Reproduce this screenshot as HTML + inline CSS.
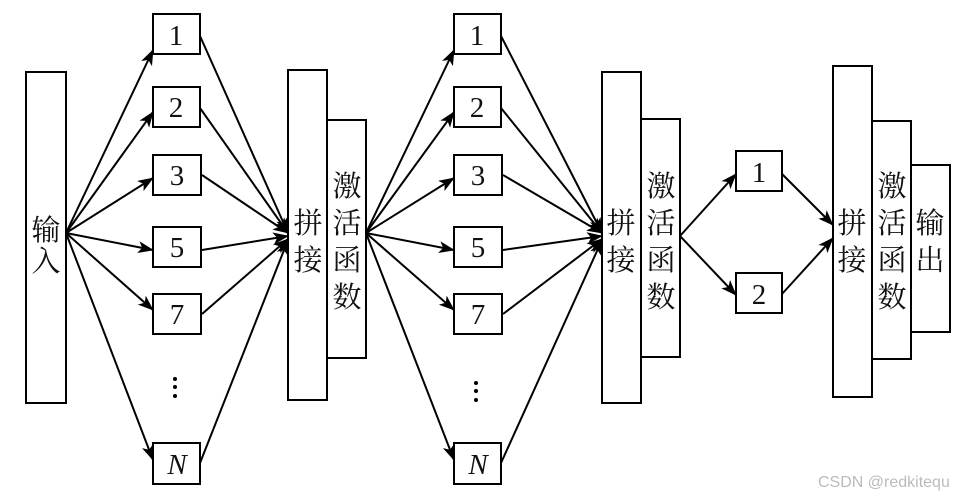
<!DOCTYPE html>
<html><head><meta charset="utf-8"><style>
body{margin:0;background:#fff}
svg text{font-family:"Liberation Serif","Noto Serif CJK SC",serif;fill:#111}
</style></head><body>
<svg width="974" height="498" viewBox="0 0 974 498" xmlns="http://www.w3.org/2000/svg">
<defs>
<marker id="b" viewBox="0 0 16 12" refX="15" refY="6" markerWidth="16" markerHeight="12" markerUnits="userSpaceOnUse" orient="auto"><path d="M0,0 L16,6 L0,12 L4,6 z" fill="#000"/></marker></defs>
<g stroke="#000" stroke-width="2" fill="#fff">
<rect x="26" y="72" width="40" height="331"/>
<rect x="327" y="120" width="39" height="238"/>
<rect x="288" y="70" width="39" height="330"/>
<rect x="641" y="119" width="39" height="238"/>
<rect x="602" y="72" width="39" height="331"/>
<rect x="911" y="165" width="39" height="167"/>
<rect x="872" y="121" width="39" height="238"/>
<rect x="833" y="66" width="39" height="331"/>
<rect x="736" y="151" width="46" height="40"/>
<rect x="736" y="273" width="46" height="40"/>
</g>
<g stroke="#000" stroke-width="2" fill="none">
<line x1="66" y1="233" x2="153" y2="50" marker-end="url(#b)"/>
<line x1="66" y1="233" x2="153" y2="112" marker-end="url(#b)"/>
<line x1="66" y1="233" x2="153" y2="178" marker-end="url(#b)"/>
<line x1="66" y1="233" x2="153" y2="250" marker-end="url(#b)"/>
<line x1="66" y1="233" x2="153" y2="310" marker-end="url(#b)"/>
<line x1="66" y1="233" x2="153" y2="460" marker-end="url(#b)"/>
<line x1="200" y1="36" x2="288" y2="233" marker-end="url(#b)"/>
<line x1="200" y1="108" x2="288" y2="233" marker-end="url(#b)"/>
<line x1="202" y1="175" x2="288" y2="233" marker-end="url(#b)"/>
<line x1="202" y1="250" x2="288" y2="236" marker-end="url(#b)"/>
<line x1="202" y1="314" x2="288" y2="239" marker-end="url(#b)"/>
<line x1="200" y1="463" x2="288" y2="240" marker-end="url(#b)"/>
</g>
<g stroke="#000" stroke-width="2" fill="#fff">
<rect x="153" y="14" width="47" height="40"/>
<rect x="153" y="87" width="47" height="40"/>
<rect x="153" y="155" width="48" height="40"/>
<rect x="153" y="227" width="48" height="40"/>
<rect x="153" y="294" width="48" height="40"/>
<rect x="153" y="443" width="47" height="41"/>
</g>
<g transform="translate(301,0)">
<g stroke="#000" stroke-width="2" fill="none">
<line x1="65" y1="233" x2="153" y2="50" marker-end="url(#b)"/>
<line x1="65" y1="233" x2="153" y2="112" marker-end="url(#b)"/>
<line x1="65" y1="233" x2="153" y2="178" marker-end="url(#b)"/>
<line x1="65" y1="233" x2="153" y2="250" marker-end="url(#b)"/>
<line x1="65" y1="233" x2="153" y2="310" marker-end="url(#b)"/>
<line x1="65" y1="233" x2="153" y2="460" marker-end="url(#b)"/>
<line x1="200" y1="36" x2="301" y2="233" marker-end="url(#b)"/>
<line x1="200" y1="108" x2="301" y2="233" marker-end="url(#b)"/>
<line x1="202" y1="175" x2="301" y2="233" marker-end="url(#b)"/>
<line x1="202" y1="250" x2="301" y2="236" marker-end="url(#b)"/>
<line x1="202" y1="314" x2="301" y2="239" marker-end="url(#b)"/>
<line x1="200" y1="463" x2="301" y2="240" marker-end="url(#b)"/>
</g>
<g stroke="#000" stroke-width="2" fill="#fff">
<rect x="153" y="14" width="47" height="40"/>
<rect x="153" y="87" width="47" height="40"/>
<rect x="153" y="155" width="48" height="40"/>
<rect x="153" y="227" width="48" height="40"/>
<rect x="153" y="294" width="48" height="40"/>
<rect x="153" y="443" width="47" height="41"/>
</g>
</g>
<g stroke="#000" stroke-width="2" fill="none">
<line x1="680" y1="236" x2="736" y2="174" marker-end="url(#b)"/>
<line x1="680" y1="236" x2="736" y2="295" marker-end="url(#b)"/>
<line x1="782" y1="174" x2="833" y2="225" marker-end="url(#b)"/>
<line x1="782" y1="294" x2="833" y2="238" marker-end="url(#b)"/>
</g>
<g font-size="29" text-anchor="middle">
<text x="176" y="45">1</text><text x="176" y="117">2</text><text x="177" y="185">3</text><text x="177" y="257">5</text><text x="177" y="324">7</text><text x="177" y="474" font-style="italic">N</text>
<text x="477" y="45">1</text><text x="477" y="117">2</text><text x="478" y="185">3</text><text x="478" y="257">5</text><text x="478" y="324">7</text><text x="478" y="474" font-style="italic">N</text>
<text x="759" y="182">1</text><text x="759" y="304">2</text>
</g>
<g fill="#000"><circle cx="175" cy="379" r="2"/><circle cx="175" cy="387" r="2"/><circle cx="175" cy="396" r="2"/>
<circle cx="476" cy="383" r="2"/><circle cx="476" cy="391" r="2"/><circle cx="476" cy="400" r="2"/></g>
<g font-size="29" text-anchor="middle">
<text x="46" y="240">输</text><text x="46" y="271">入</text>
<text x="308" y="233">拼</text><text x="308" y="270">接</text>
<text x="347" y="196">激</text><text x="347" y="233">活</text><text x="347" y="270">函</text><text x="347" y="307">数</text>
<text x="621" y="233">拼</text><text x="621" y="270">接</text>
<text x="661" y="196">激</text><text x="661" y="233">活</text><text x="661" y="270">函</text><text x="661" y="307">数</text>
<text x="852" y="233">拼</text><text x="852" y="270">接</text>
<text x="892" y="196">激</text><text x="892" y="233">活</text><text x="892" y="270">函</text><text x="892" y="307">数</text>
<text x="930" y="233">输</text><text x="930" y="270">出</text>
</g>
<text x="818" y="487" font-size="16" style="font-family:'Liberation Sans',sans-serif;fill:#bbb">CSDN @redkitequ</text>
</svg>
</body></html>
